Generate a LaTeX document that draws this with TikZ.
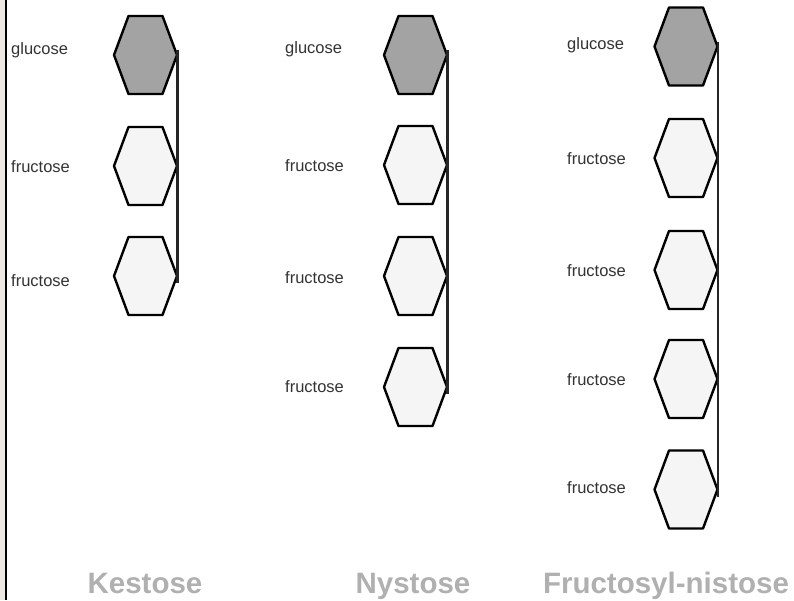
\documentclass[tikz,border=0pt]{standalone}
\usepackage{fontspec}
\setmainfont{Liberation Sans}
\newcommand\hexa[4]{%
  \draw[#4] (#2-31.5,#3) -- (#2-17,#3-39) -- (#2+17,#3-39) -- (#2+31.5,#3) -- (#2+17,#3+39) -- (#2-17,#3+39) -- cycle;
  \coordinate (#1) at (#2+32,#3);}
\begin{document}
\begin{tikzpicture}[x=1pt,y=-1pt,
  hexg/.style={draw=black,line width=2.4pt,fill=black!36,line join=round},
  hexf/.style={draw=black,line width=2.4pt,fill=black!4,line join=round},
  lbl/.style={anchor=base west,inner sep=0pt,text=black!80,font=\fontsize{16.5}{19}\selectfont},
  ttl/.style={anchor=base,inner sep=0pt,text=black!31,font=\fontsize{29.5}{34}\selectfont\bfseries},
  link/.style={draw=black!85,line width=2.2pt}]
\useasboundingbox (0,0) rectangle (794,600);
\fill[color={rgb,255:red,236;green,233;blue,226}] (0,0) rectangle (5,600);
\draw[line width=2pt] (6,0) -- (6,600);
% Kestose
\hexa{a1}{145.5}{55}{hexg}
\hexa{a2}{145.5}{166}{hexf}
\hexa{a3}{145.5}{276}{hexf}
\draw[link] ([yshift=5pt]a1) -- ([yshift=-7pt]a3);
\node[lbl] (la1) at (11,54) {glucose};
\node[lbl] (la2) at (11,172) {fructose};
\node[lbl] (la3) at (11,286) {fructose};
% Nystose
\hexa{b1}{415.5}{55}{hexg}
\hexa{b2}{415.5}{165}{hexf}
\hexa{b3}{415.5}{276}{hexf}
\hexa{b4}{415.5}{387}{hexf}
\draw[link] ([yshift=5pt]b1) -- ([yshift=-7pt]b4);
\node[lbl] (lb1) at (285,53) {glucose};
\node[lbl] (lb2) at (285,171) {fructose};
\node[lbl] (lb3) at (285,283) {fructose};
\node[lbl] (lb4) at (285,392) {fructose};
% Fructosyl-nistose
\hexa{c1}{686}{46.5}{hexg}
\hexa{c2}{686}{158}{hexf}
\hexa{c3}{686}{270}{hexf}
\hexa{c4}{686}{379}{hexf}
\hexa{c5}{686}{489.5}{hexf}
\draw[link] ([yshift=5pt]c1) -- ([yshift=-7pt]c5);
\node[lbl] (lc1) at (567,49) {glucose};
\node[lbl] (lc2) at (567,164) {fructose};
\node[lbl] (lc3) at (567,276) {fructose};
\node[lbl] (lc4) at (567,385) {fructose};
\node[lbl] (lc5) at (567,493) {fructose};
% titles
\node[ttl] (t1) at (145,593) {Kestose};
\node[ttl] (t2) at (413,593) {Nystose};
\node[ttl] (t3) at (666,593) {Fructosyl-nistose};
\end{tikzpicture}
\end{document}
